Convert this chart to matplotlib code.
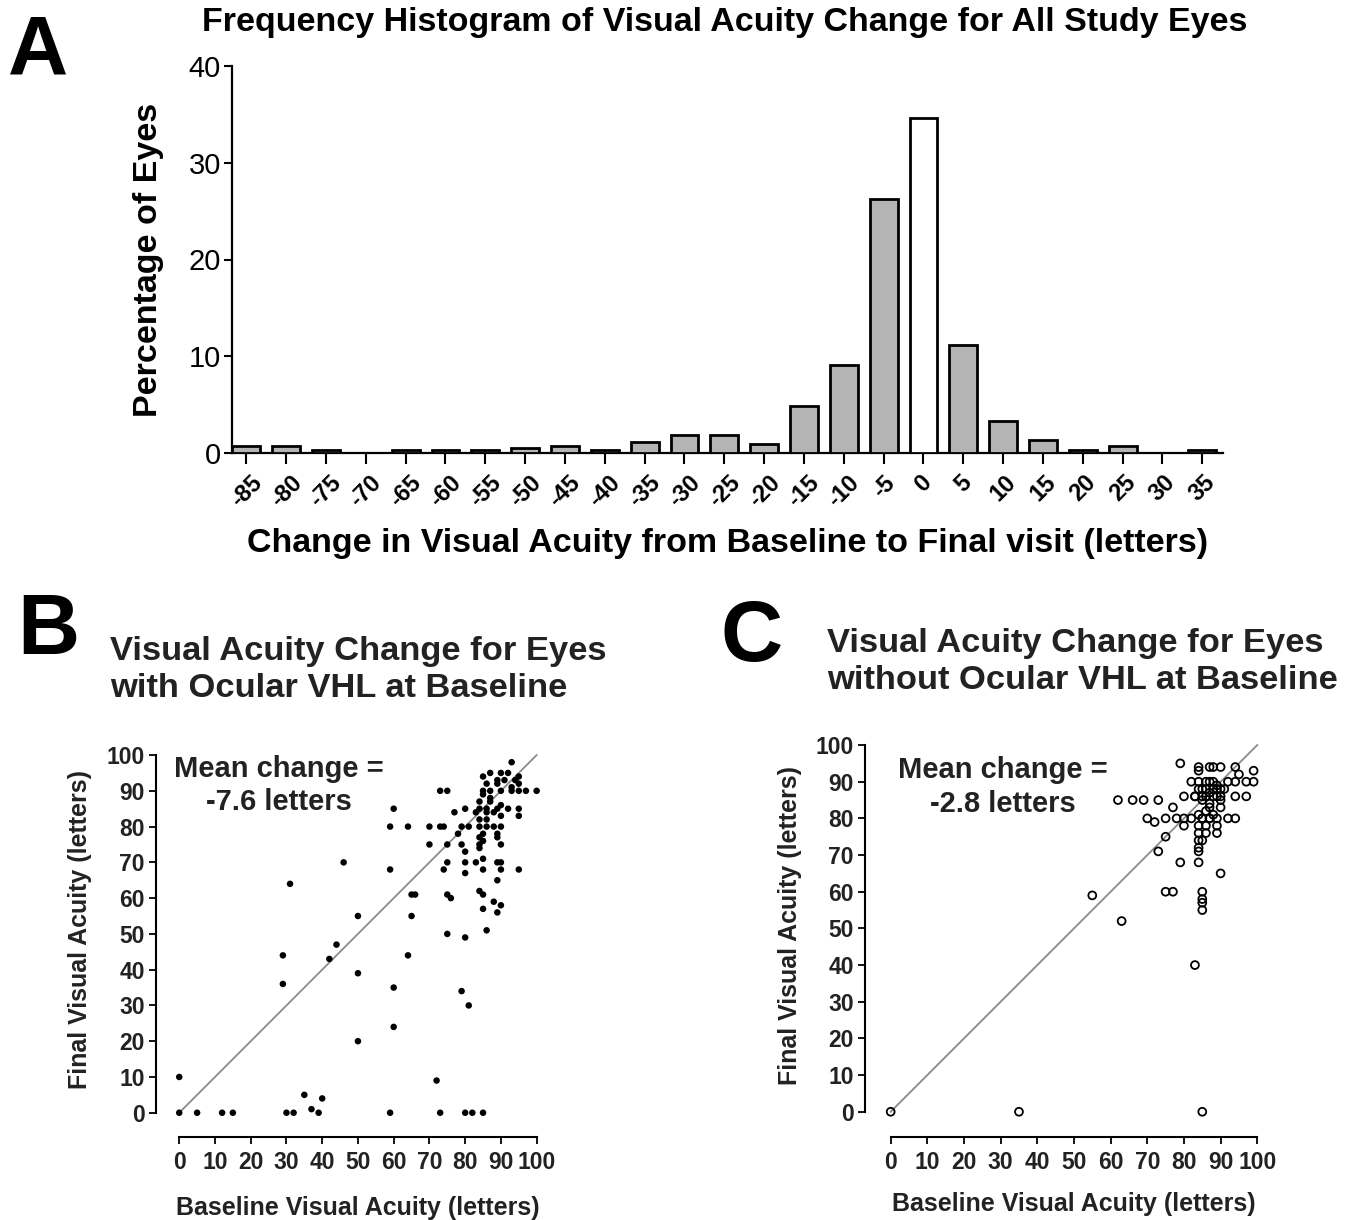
import matplotlib
matplotlib.use("Agg")
import matplotlib.pyplot as plt
import numpy as np

plt.rcParams['font.family'] = ['Liberation Sans', 'DejaVu Sans']

# panel A: histogram of change in VA
change_bins = [-85, -80, -75, -70, -65, -60, -55, -50, -45, -40, -35, -30, -25,
               -20, -15, -10, -5, 0, 5, 10, 15, 20, 25, 30, 35]
pct_eyes = [0.7, 0.7, 0.35, 0.0, 0.35, 0.35, 0.35, 0.5, 0.7, 0.35, 1.1, 1.9, 1.9,
            0.9, 4.9, 9.1, 26.3, 34.6, 11.2, 3.3, 1.3, 0.35, 0.7, 0.0, 0.35]

# panel B: eyes with ocular VHL (baseline, final)
b_base = [0, 0, 5, 12, 15, 30, 32, 29, 29, 31, 35, 37, 39, 40, 42, 44, 46, 50, 50, 50,
          59, 59, 60, 59, 60, 60, 64, 64, 65, 66, 65, 72, 73, 75, 80, 82, 85, 79, 81, 80, 86,
          93, 87, 90, 92, 95, 85, 89, 91, 94, 86, 89, 93, 95, 85, 87, 90, 93, 95, 97, 100,
          73, 75, 85, 87, 84, 87, 90, 84, 86, 89, 92, 95, 95, 77, 80, 83, 86, 88, 90, 84, 86,
          70, 73, 74, 79, 81, 84, 86, 88, 90, 78, 85, 89, 84, 85, 89, 70, 75, 79, 84, 84, 90,
          80, 75, 80, 83, 85, 89, 90, 74, 85, 90, 95, 80, 89, 75, 76, 84, 85, 88, 90, 85, 89]
b_final = [0, 10, 0, 0, 0, 0, 0, 44, 36, 64, 5, 1, 0, 4, 43, 47, 70, 55, 39, 20,
           0, 68, 85, 80, 35, 24, 80, 44, 61, 61, 55, 9, 0, 50, 0, 0, 0, 34, 30, 49, 51,
           98, 95, 95, 95, 94, 94, 93, 93, 93, 92, 92, 91, 92, 90, 90, 90, 90, 90, 90, 90,
           90, 90, 89, 88, 87, 87, 86, 85, 85, 85, 85, 85, 83, 84, 85, 84, 84, 84, 83, 82, 82,
           80, 80, 80, 80, 80, 80, 80, 80, 80, 78, 78, 78, 77, 76, 77, 75, 75, 75, 75, 74, 75,
           73, 70, 70, 70, 71, 70, 70, 68, 68, 68, 68, 67, 65, 61, 60, 62, 61, 59, 58, 57, 56]

# panel C: eyes without ocular VHL (baseline, final)
c_base = [0, 35, 85, 83, 55, 63, 75, 77, 85, 85, 85, 85, 90,
          79, 84, 87, 88, 90, 94, 99, 84, 95,
          82, 84, 87, 89, 92, 94, 97, 99, 84, 86, 89, 91,
          80, 83, 85, 88, 90, 94, 97, 62, 66, 69, 73, 77, 87, 90, 84,
          70, 72, 75, 78, 80, 82, 85, 87, 89, 92, 94, 80, 84, 86, 89,
          84, 86, 89, 75, 84, 85, 73, 84, 84, 79, 84,
          85, 86, 87, 88, 85, 87, 89, 86, 88, 90, 86, 88, 83, 85, 87, 90]
c_final = [0, 0, 0, 40, 59, 52, 60, 60, 60, 58, 57, 55, 65,
           95, 94, 94, 94, 94, 94, 93, 93, 92,
           90, 90, 90, 89, 90, 90, 90, 90, 88, 88, 88, 88,
           86, 86, 86, 86, 86, 86, 86, 85, 85, 85, 85, 83, 83, 83, 81,
           80, 79, 80, 80, 80, 80, 80, 80, 80, 80, 80, 78, 78, 78, 78,
           76, 76, 76, 75, 74, 74, 71, 72, 71, 68, 68,
           85, 86, 87, 88, 88, 84, 86, 82, 81, 88, 90, 90, 86, 80, 80, 85]

mean_change_b = -7.6
mean_change_c = -2.8

W, H = 1357, 1220
fig = plt.figure(figsize=(W / 100, H / 100), dpi=100)

# ---- panel A ----
ax_a = fig.add_axes([232 / W, 1 - 453 / H, (1223 - 232) / W, (453 - 66) / H])
bar_colors = ['white' if b == 0 else '#b4b4b4' for b in change_bins]
ax_a.bar(change_bins, pct_eyes, width=3.5, color=bar_colors, edgecolor='black',
         linewidth=2, zorder=3)
ax_a.set_xlim(-86.8, 37.6)
ax_a.set_ylim(0, 40)
ax_a.set_yticks([0, 10, 20, 30, 40])
ax_a.set_xticks(change_bins)
ax_a.set_xticklabels([str(b) for b in change_bins], rotation=45, ha='center',
                     fontweight='bold')
ax_a.tick_params(axis='x', length=8, width=1.5, pad=5, labelsize=17)
ax_a.tick_params(axis='y', length=6, width=1.5, pad=2, labelsize=21)
for s in ['top', 'right']:
    ax_a.spines[s].set_visible(False)
for s in ['left', 'bottom']:
    ax_a.spines[s].set_linewidth(1.6)
ax_a.set_ylabel('Percentage of Eyes', fontsize=24.5, fontweight='bold', labelpad=18)
ax_a.set_xlabel('Change in Visual Acuity from Baseline to Final visit (letters)',
                fontsize=24.5, fontweight='bold', labelpad=12)

fig.text(0.534, 1 - 22 / H, 'Frequency Histogram of Visual Acuity Change for All Study Eyes',
         ha='center', va='center', fontsize=24.5, fontweight='bold')
fig.text(8 / W, 1 - 14 / H, 'A', ha='left', va='top', fontsize=60, fontweight='bold')


def scatter_panel(ax, xs, ys, filled):
    ax.plot([0, 100], [0, 100], color='#8a8a8a', lw=1.3, zorder=1)
    if filled:
        ax.scatter(xs, ys, s=22, c='black', edgecolors='none', zorder=3)
    else:
        ax.scatter(xs, ys, s=32, facecolors='none', edgecolors='black',
                   linewidths=1.3, zorder=3)
    ax.set_xticks(np.arange(0, 101, 10))
    ax.set_yticks(np.arange(0, 101, 10))
    for s in ['top', 'right']:
        ax.spines[s].set_visible(False)
    for s in ['left', 'bottom']:
        ax.spines[s].set_linewidth(1.5)
        ax.spines[s].set_bounds(0, 100)
    ax.tick_params(length=5, width=1.3, labelsize=16.5)
    ax.tick_params(axis='x', pad=5)
    ax.tick_params(axis='y', pad=3)
    for lab in ax.get_xticklabels() + ax.get_yticklabels():
        lab.set_fontweight('bold')
        lab.set_color('#222222')
    ax.set_xlabel('Baseline Visual Acuity (letters)', fontsize=18, fontweight='bold',
                  color='#222222')
    ax.set_ylabel('Final Visual Acuity (letters)', fontsize=18, fontweight='bold',
                  color='#222222')


# ---- panel B ----
ax_b = fig.add_axes([156 / W, 1 - 1136.7 / H, 387.8 / W, 388.8 / H])
ax_b.set_xlim(-6.5, 102)
ax_b.set_ylim(-6.7, 102)
scatter_panel(ax_b, b_base, b_final, True)
ax_b.xaxis.set_label_coords(0.521, -0.152)
ax_b.yaxis.set_label_coords(-0.165, 0.532)
ax_b.text(28, 91.5, 'Mean change =\n%.1f letters' % mean_change_b, ha='center', va='center',
          fontsize=21, fontweight='bold', color='#222222', linespacing=1.25)

fig.text(110 / W, 1 - 670 / H, 'Visual Acuity Change for Eyes\nwith Ocular VHL at Baseline',
         ha='left', va='center', fontsize=24.8, fontweight='bold', color='#222222',
         linespacing=1.27)
fig.text(17 / W, 1 - 592 / H, 'B', ha='left', va='top', fontsize=62, fontweight='bold')

# ---- panel C ----
ax_c = fig.add_axes([865 / W, 1 - 1136.7 / H, 399.6 / W, 399 / H])
ax_c.set_xlim(-7, 102)
ax_c.set_ylim(-6.8, 102)
scatter_panel(ax_c, c_base, c_final, False)
ax_c.xaxis.set_label_coords(0.523, -0.139)
ax_c.yaxis.set_label_coords(-0.158, 0.53)
ax_c.text(30.5, 88.5, 'Mean change =\n%.1f letters' % mean_change_c, ha='center', va='center',
          fontsize=21, fontweight='bold', color='#222222', linespacing=1.25)

fig.text(827 / W, 1 - 662 / H, 'Visual Acuity Change for Eyes\nwithout Ocular VHL at Baseline',
         ha='left', va='center', fontsize=24.8, fontweight='bold', color='#222222',
         linespacing=1.27)
fig.text(720 / W, 1 - 599 / H, 'C', ha='left', va='top', fontsize=62, fontweight='bold')

fig.savefig('out.png', dpi=100)
